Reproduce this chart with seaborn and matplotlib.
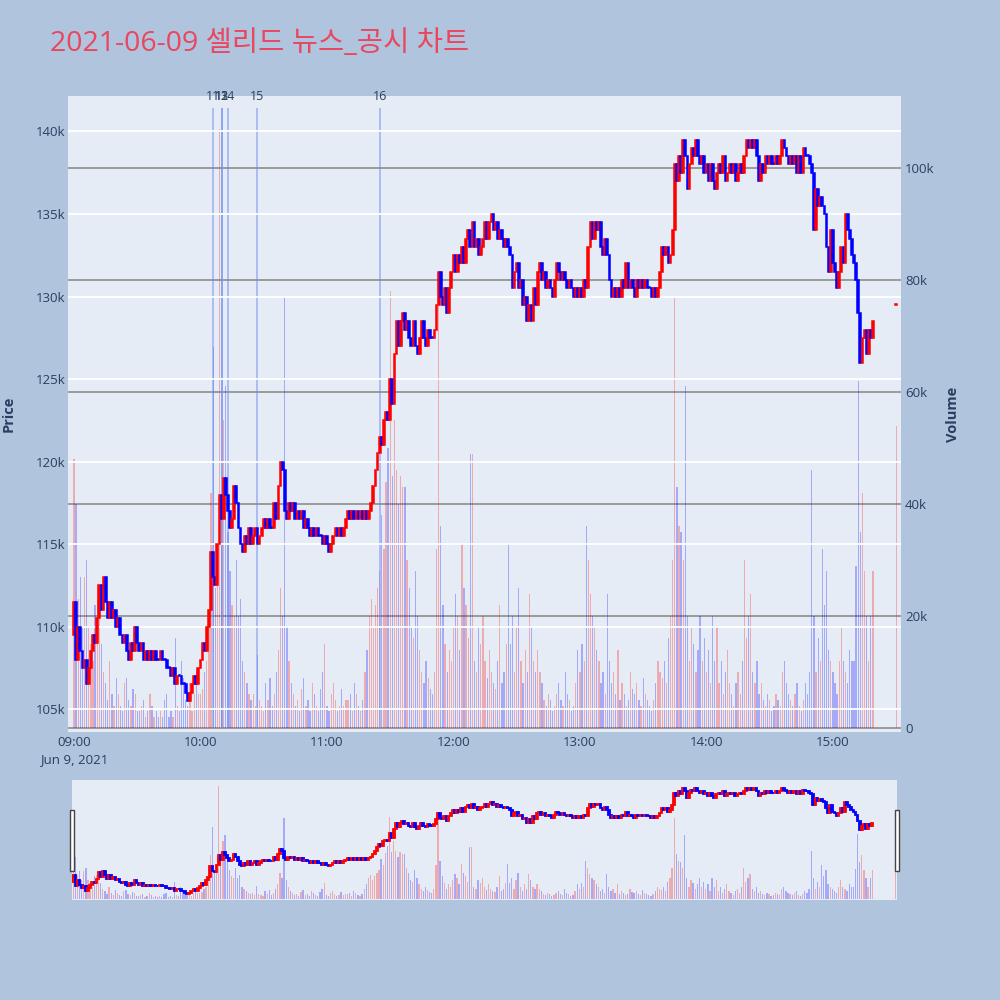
"""
Intraday candlestick chart with volume, news markers and a range slider
"""

import numpy as np
import pandas as pd
import matplotlib
matplotlib.use("Agg")
import matplotlib.pyplot as plt
from matplotlib.patches import Rectangle
import seaborn as sns

TITLE = "2021-06-09 셀리드 뉴스_공시 차트"

# 1-minute closes (thousand KRW), 09:00 .. 15:19
first_open_k = 109.5
close_k = [
    111.5, 108.0, 110.0, 108.5, 107.5, 108.0, 106.5, 107.5, 108.5, 109.5,
    109.0, 110.5, 112.5, 111.0, 113.0, 111.5, 110.5, 111.5, 110.5, 111.0,
    110.0, 110.5, 109.5, 109.0, 109.5, 108.5, 108.0, 109.0, 108.5, 110.0,
    109.0, 108.5, 109.0, 108.0, 108.5, 108.0, 108.5, 108.0, 108.5, 108.0,
    108.0, 108.5, 108.0, 108.0, 107.5, 107.5, 107.0, 107.5, 106.5, 107.0,
    107.0, 106.5, 106.5, 106.0, 105.5, 106.0, 106.5, 107.0, 106.5, 107.5,
    108.0, 109.0, 108.5, 110.0, 111.0, 114.5, 113.0, 112.5, 115.0, 118.0,
    116.5, 119.0, 118.0, 117.0, 116.0, 116.5, 118.5, 117.5, 116.0, 115.0,
    114.5, 115.5, 115.0, 116.0, 115.0, 115.5, 116.0, 115.0, 115.5, 116.0,
    116.5, 116.0, 116.5, 116.0, 116.0, 117.5, 116.5, 118.5, 120.0, 119.5,
    117.0, 116.5, 117.5, 117.0, 117.5, 116.5, 117.0, 116.5, 117.0, 116.0,
    116.5, 116.0, 115.5, 116.0, 115.5, 116.0, 115.5, 115.5, 115.0, 115.5,
    115.0, 114.5, 115.0, 115.5, 116.0, 115.5, 116.0, 115.5, 116.0, 116.5,
    117.0, 116.5, 117.0, 116.5, 117.0, 116.5, 117.0, 116.5, 117.0, 116.5,
    117.0, 117.5, 118.5, 119.5, 120.5, 121.5, 121.0, 122.5, 123.0, 122.5,
    125.0, 123.5, 126.5, 128.5, 127.0, 128.5, 129.0, 128.0, 128.5, 127.5,
    127.0, 128.5, 127.0, 126.5, 127.5, 128.5, 127.5, 127.0, 128.0, 127.5,
    127.5, 128.0, 129.5, 131.5, 130.0, 129.5, 130.5, 129.0, 130.5, 131.5,
    132.5, 131.5, 132.5, 132.0, 133.0, 132.0, 133.5, 134.0, 133.0, 134.5,
    133.0, 133.5, 132.5, 133.0, 133.5, 134.5, 133.5, 134.5, 135.0, 134.0,
    134.5, 133.5, 134.0, 133.5, 133.0, 133.5, 133.0, 132.5, 130.5, 131.5,
    132.0, 130.5, 131.0, 129.5, 130.0, 128.5, 129.5, 128.5, 130.5, 129.5,
    131.5, 132.0, 131.0, 131.5, 130.5, 131.0, 130.5, 130.0, 131.0, 132.0,
    131.5, 131.0, 131.5, 131.0, 130.5, 131.0, 130.5, 130.0, 130.5, 130.0,
    130.5, 130.0, 131.0, 130.5, 133.0, 134.5, 133.5, 134.5, 134.0, 134.5,
    133.0, 132.5, 133.5, 132.5, 131.0, 130.0, 130.5, 130.0, 130.5, 130.0,
    131.0, 130.5, 132.0, 130.5, 131.0, 130.5, 130.0, 131.0, 130.5, 131.0,
    130.5, 131.0, 130.5, 130.5, 130.0, 130.5, 130.0, 130.5, 131.5, 133.0,
    132.5, 133.0, 132.0, 132.5, 134.0, 138.0, 137.0, 138.5, 137.5, 139.5,
    138.5, 136.5, 138.0, 139.0, 138.5, 139.5, 138.5, 138.0, 138.5, 137.5,
    138.0, 137.0, 138.0, 137.0, 136.5, 137.5, 138.0, 137.5, 138.5, 137.0,
    137.5, 138.0, 137.5, 138.0, 137.0, 137.5, 138.0, 137.5, 138.5, 139.5,
    139.0, 139.5, 139.0, 139.5, 138.5, 137.0, 138.0, 137.5, 138.5, 138.0,
    138.5, 138.0, 138.0, 138.5, 138.0, 138.5, 139.5, 139.0, 138.5, 138.0,
    138.5, 138.0, 138.5, 137.5, 138.5, 137.5, 139.0, 138.5, 138.5, 138.0,
    137.5, 134.0, 136.5, 135.5, 136.0, 135.5, 135.0, 133.0, 131.5, 134.0,
    132.0, 131.5, 130.5, 131.5, 133.0, 132.0, 135.0, 134.0, 133.5, 132.5,
    132.0, 131.0, 129.0, 126.0, 127.5, 128.0, 126.5, 128.0, 127.5, 128.5,
]

# 1-minute volume (thousand shares)
volume_k = [
    48, 40, 23, 27, 18, 27, 30, 18, 15, 12,
    22, 23, 21, 15, 10, 8, 5, 12, 6, 4,
    9, 6, 4, 3, 8, 9, 5, 4, 7, 6,
    3, 3, 4, 5, 2, 3, 6, 4, 2, 3,
    2, 3, 2, 5, 6, 2, 3, 2, 16, 4,
    3, 12, 9, 5, 4, 8, 3, 6, 10, 6,
    6, 7, 10, 12, 20, 42, 68, 25, 30, 107,
    40, 55, 61, 35, 28, 22, 20, 30, 20, 23,
    12, 10, 8, 6, 5, 6, 4, 13, 5, 4,
    3, 8, 5, 9, 4, 6, 10, 14, 25, 20,
    77, 18, 12, 8, 6, 4, 5, 3, 7, 9,
    4, 5, 3, 8, 6, 4, 3, 7, 10, 15,
    4, 3, 6, 8, 5, 3, 4, 7, 4, 5,
    5, 6, 3, 8, 6, 4, 3, 5, 10, 14,
    20, 23, 18, 22, 25, 28, 38, 32, 44, 50,
    78, 45, 55, 46, 40, 45, 43, 43, 30, 25,
    18, 16, 28, 20, 14, 10, 8, 12, 9, 7,
    6, 10, 32, 77, 36, 22, 15, 10, 14, 12,
    18, 24, 20, 14, 33, 25, 22, 16, 49, 49,
    12, 10, 18, 15, 20, 12, 9, 14, 10, 8,
    7, 12, 22, 8, 10, 15, 33, 15, 20, 10,
    18, 25, 12, 8, 14, 10, 24, 18, 12, 10,
    14, 10, 8, 5, 4, 6, 5, 3, 4, 6,
    8, 5, 4, 10, 6, 5, 3, 4, 8, 14,
    10, 15, 12, 36, 30, 24, 20, 18, 14, 12,
    8, 10, 6, 24, 12, 8, 10, 6, 14, 5,
    8, 6, 4, 5, 10, 7, 6, 8, 5, 4,
    9, 6, 5, 4, 3, 5, 8, 12, 10, 9,
    12, 8, 16, 20, 30, 77, 43, 36, 35, 30,
    61, 20, 12, 18, 15, 10, 14, 20, 12, 16,
    10, 14, 8, 20, 12, 18, 8, 12, 6, 10,
    14, 8, 6, 4, 8, 10, 6, 12, 30, 16,
    20, 24, 10, 8, 12, 6, 8, 5, 4, 6,
    5, 3, 4, 6, 5, 4, 10, 12, 8, 6,
    5, 4, 6, 8, 4, 3, 5, 8, 6, 10,
    46, 20, 10, 16, 12, 32, 22, 28, 14, 12,
    10, 8, 6, 12, 18, 12, 10, 8, 14, 12,
    12, 29, 62, 35, 42, 28, 20, 12, 20, 28,
]

# closing single-price auction
auction_time = "2021-06-09 15:30"
auction_price_k = 129.5
auction_volume_k = 54

news_times = ["10:06", "10:10", "10:10", "10:13", "10:27", "11:25"]
news_labels = ["11", "12", "13", "14", "15", "16"]

price_ticks_k = [105, 110, 115, 120, 125, 130, 135, 140]
volume_ticks_k = [0, 20, 40, 60, 80, 100]
hour_labels = ["09:00", "10:00", "11:00", "12:00", "13:00", "14:00", "15:00"]

UP, DOWN = "#FF0000", "#0000FF"
BG, PLOT_BG, FONT_C = "#B0C4DE", "#E5ECF6", "#2a3f5f"

sns.set_theme(style="white")
plt.rcParams["font.family"] = ["Open Sans", "Noto Sans CJK KR", "DejaVu Sans"]

# build the frame
times = pd.date_range("2021-06-09 09:00", periods=len(close_k), freq="min")
df = pd.DataFrame({"time": times,
                   "close": np.array(close_k) * 1000,
                   "volume": np.array(volume_k) * 1000})
df["open"] = df["close"].shift(1).fillna(first_open_k * 1000)
df["color"] = np.where(df["close"] > df["open"], UP, DOWN)
auction = pd.DataFrame({"time": [pd.Timestamp(auction_time)],
                        "close": [auction_price_k * 1000],
                        "volume": [auction_volume_k * 1000],
                        "open": [auction_price_k * 1000],
                        "color": [UP]})
df = pd.concat([df, auction], ignore_index=True)
t0 = pd.Timestamp("2021-06-09 09:00")
df["minute"] = (df["time"] - t0).dt.total_seconds() / 60

PRICE_LIM = (103610, 142150)
VOL_LIM = (-710, 112860)


def draw(ax_vol, ax_price, lw, body_w):
    ax_vol.bar(df["minute"], df["volume"], width=0.6, color=df["color"],
               alpha=0.28, linewidth=0)
    body = (df["close"] - df["open"]).replace(0, 60)
    ax_price.bar(df["minute"], body, bottom=df["open"], width=body_w,
                 color=df["color"], edgecolor=df["color"], linewidth=lw)
    ax_vol.set_ylim(*VOL_LIM)
    ax_price.set_ylim(*PRICE_LIM)


fig = plt.figure(figsize=(10, 10), dpi=100, facecolor=BG)

# main chart: volume axis underneath, price axis on top
axv = fig.add_axes([0.068, 0.268, 0.833, 0.636])
axv.set_facecolor(PLOT_BG)
axp = axv.twinx()
axv.set_zorder(1)
axp.set_zorder(2)
axp.patch.set_visible(False)

news_min = [(pd.Timestamp("2021-06-09 " + t) - t0).total_seconds() / 60 for t in news_times]
axv.vlines(news_min, 0, 110700, color="#6f8cf0", alpha=0.5, linewidth=1.4)
draw(axv, axp, 1.1, 0.85)

# news labels sit just above the plot, they overlap like in the source
for m, lab in zip(news_min, news_labels):
    fig.text(0.068 + 0.833 * (m + 2.85) / 395.15, 0.903, lab, ha="center",
             va="center", fontsize=9, color=FONT_C)

axv.set_xlim(-2.85, 392.3)
axv.yaxis.tick_right()
axv.set_yticks([v * 1000 for v in volume_ticks_k])
axv.set_yticklabels(["0" if v == 0 else f"{v}k" for v in volume_ticks_k])
axv.grid(axis="y", color="#8c8c8c", linewidth=1.2)
axv.grid(axis="x", visible=False)
axp.yaxis.tick_left()
axp.set_yticks([v * 1000 for v in price_ticks_k])
axp.set_yticklabels([f"{v}k" for v in price_ticks_k])
axp.grid(axis="y", color="white", linewidth=1.3)
axp.grid(axis="x", visible=False)
axv.set_xticks([60 * i for i in range(len(hour_labels))])
axv.set_xticklabels([hour_labels[0] + "\nJun 9, 2021"] + hour_labels[1:],
                    linespacing=1.35, va="top")
for a in (axv, axp):
    a.tick_params(length=0, labelsize=9.5, colors=FONT_C)
    for s in a.spines.values():
        s.set_visible(False)
axv.tick_params(axis="y", pad=3)
axp.tick_params(axis="y", pad=2)
axv.tick_params(axis="x", pad=3)

fig.text(0.009, 0.586, "Price", rotation=90, ha="center", va="center",
         fontsize=10.5, fontweight="bold", color=FONT_C)
fig.text(0.953, 0.586, "Volume", rotation=90, ha="center", va="center",
         fontsize=10.5, fontweight="bold", color=FONT_C)

# range slider
slv = fig.add_axes([0.072, 0.100, 0.825, 0.120])
slv.set_facecolor(PLOT_BG)
slp = slv.twinx()
slp.patch.set_visible(False)
draw(slv, slp, 1.3, 0.8)
slv.set_xlim(-0.6, 390.7)
for a in (slv, slp):
    a.set_xticks([])
    a.set_yticks([])
    a.grid(False)
    for s in a.spines.values():
        s.set_visible(False)
for hx in (0.0695, 0.8945):
    fig.add_artist(Rectangle((hx, 0.129), 0.004, 0.061, transform=fig.transFigure,
                             facecolor="white", edgecolor="#444444", linewidth=1))

fig.text(0.050, 0.949, TITLE, fontsize=20.5, color="#E8475F", ha="left",
         va="baseline", family=["Open Sans", "Noto Sans CJK KR"])

fig.savefig("out.png", dpi=100, facecolor=fig.get_facecolor())
